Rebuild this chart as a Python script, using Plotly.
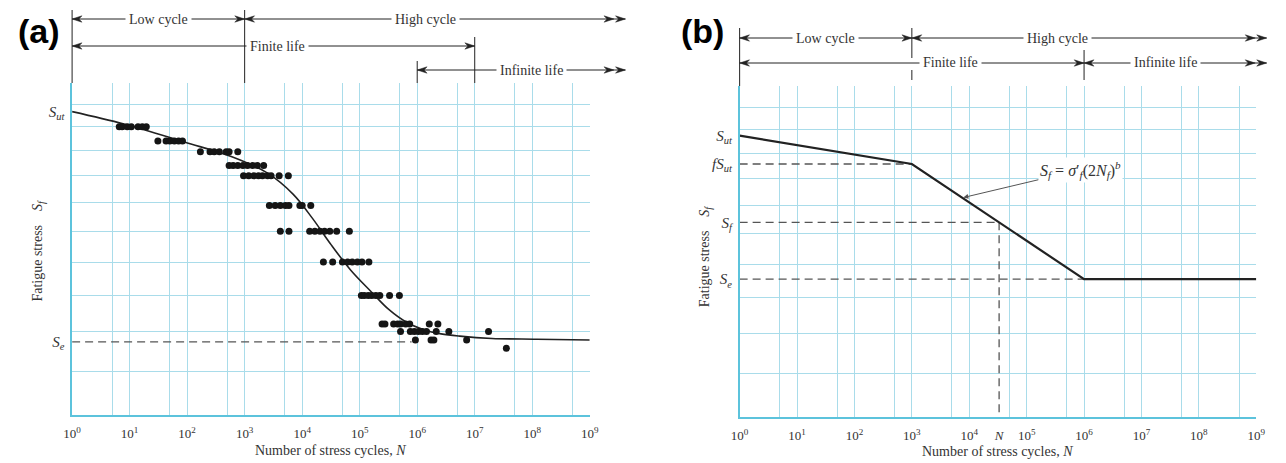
import math
import plotly.graph_objects as go

# ---------------- data ----------------
# Panel (a): experimental S-N points, grouped by stress level (arbitrary stress units)
row_stress = [18.0, 17.4, 16.95, 16.4, 16.0, 14.9, 14.0, 13.0, 12.0, 11.2, 11.0, 10.78, 10.57]
row_cycles = [
    [6.6, 7.4, 9.1, 10.7, 14, 16.6, 19.5],
    [31, 43, 50, 60, 71, 83],
    [170, 250, 295, 363, 479, 537, 759],
    [537, 631, 759, 933, 1122, 1380, 1660, 2140],
    [955, 1175, 1445, 1740, 2040, 2510, 2880, 3980, 5750],
    [2690, 3390, 4170, 5130, 5890, 9120, 10000, 14100],
    [4170, 5890, 13500, 16600, 20400, 24500, 30200, 39800, 66100],
    [23400, 33900, 50100, 61700, 74100, 91200, 109600, 144500],
    [1.07e5, 1.20e5, 1.41e5, 1.62e5, 1.91e5, 2.24e5, 3.31e5, 4.90e5],
    [2.45e5, 2.75e5, 3.89e5, 4.57e5, 5.13e5, 6.31e5, 7.41e5, 1.62e6, 2.29e6],
    [5.13e5, 7.59e5, 8.91e5, 1.05e6, 1.23e6, 1.45e6, 2.14e6, 3.55e6, 1.74e7],
    [9.3e5, 1.74e6, 1.95e6, 7.24e6],
    [3.55e7],
]
# Panel (a): fitted curve
curve_N = [1, 8, 90, 600, 2500, 7000, 15000, 32000, 70000, 1.6e5, 3.2e5,
           6.5e5, 1.3e6, 2.6e6, 5.5e6, 2e7, 1.2e8, 1e9]
curve_S = [18.67, 18.12, 17.35, 16.75, 16.1, 15.3, 14.45, 13.55, 12.75, 12.1, 11.6,
           11.25, 11.05, 10.94, 10.88, 10.82, 10.80, 10.78]
Sut_a = 18.67
Se_a = 10.73
Se_a_dash_end = 8e5

# Panel (b): idealized S-N diagram
Sut_b = 17.74
fSut_b = 16.57
Se_b = 12.55
N_knee = 1e3
N_e = 1e6
N_end = 1e9
N_b = 10 ** 4.52
logS = lambda v: math.log10(v)
Sf_b = 10 ** (logS(fSut_b) + (math.log10(N_b) - 3) / 3 * (logS(Se_b) - logS(fSut_b)))

# axes
decades = list(range(10))
decade_vals = [10 ** k for k in decades]
decade_text = [f"10<sup>{k}</sup>" for k in decades]
grid_x = sorted(decade_vals + [5 * 10 ** k for k in range(9)])
grid_y = list(range(9, 21))
y_min, y_max = 9, 20

ink = "#222222"
dash_col = "#555555"
grid_col = "#a9dcea"
axis_col = "#5cc3dc"
serif = "Liberation Serif"

fig = go.Figure()

# ---------------- panel (a) ----------------
pts_x, pts_y = [], []
for s, ns in zip(row_stress, row_cycles):
    pts_x += ns
    pts_y += [s] * len(ns)

fig.add_trace(go.Scatter(x=[1, Se_a_dash_end], y=[Se_a, Se_a], mode="lines",
                         line=dict(color=dash_col, width=1.3, dash="8px,5px"),
                         xaxis="x", yaxis="y", showlegend=False, hoverinfo="skip"))
fig.add_trace(go.Scatter(x=curve_N, y=curve_S, mode="lines",
                         line=dict(color=ink, width=1.6, shape="spline", smoothing=1.0),
                         xaxis="x", yaxis="y", showlegend=False))
fig.add_trace(go.Scatter(x=pts_x, y=pts_y, mode="markers",
                         marker=dict(color="#151515", size=7),
                         xaxis="x", yaxis="y", showlegend=False))

# ---------------- panel (b) ----------------
dash_b = dict(color=dash_col, width=1.3, dash="8px,5px")
fig.add_trace(go.Scatter(x=[1, N_knee], y=[fSut_b, fSut_b], mode="lines", line=dash_b,
                         xaxis="x2", yaxis="y2", showlegend=False))
fig.add_trace(go.Scatter(x=[1, N_b], y=[Sf_b, Sf_b], mode="lines", line=dash_b,
                         xaxis="x2", yaxis="y2", showlegend=False))
fig.add_trace(go.Scatter(x=[N_b, N_b], y=[Sf_b, y_min], mode="lines", line=dash_b,
                         xaxis="x2", yaxis="y2", showlegend=False))
fig.add_trace(go.Scatter(x=[1, N_e], y=[Se_b, Se_b], mode="lines", line=dash_b,
                         xaxis="x2", yaxis="y2", showlegend=False))
fig.add_trace(go.Scatter(x=[1, N_knee, N_e, N_end], y=[Sut_b, fSut_b, Se_b, Se_b], mode="lines",
                         line=dict(color=ink, width=2.2),
                         xaxis="x2", yaxis="y2", showlegend=False))

# ---------------- axes ----------------
def xaxis_cfg(domain, tickvals, ticktext):
    return dict(type="log", domain=domain, range=[0, 9], tickvals=tickvals, ticktext=ticktext,
                showgrid=False, zeroline=False, showline=True, linecolor=axis_col, linewidth=1.6,
                ticks="", ticklabelstandoff=6,
                tickfont=dict(family=serif, size=13, color="#333"),
                minor=dict(tickmode="array", tickvals=grid_x, showgrid=True,
                           gridcolor=grid_col, gridwidth=1, ticks=""))


def yaxis_cfg(domain, anchor, tickvals, ticktext):
    return dict(type="log", domain=domain, anchor=anchor,
                range=[math.log10(y_min), math.log10(y_max)],
                tickvals=tickvals, ticktext=ticktext, showgrid=False, zeroline=False,
                showline=True, linecolor=axis_col, linewidth=1.6, ticks="",
                ticklabelstandoff=3,
                tickfont=dict(family=serif, size=15, color="#333"),
                minor=dict(tickmode="array", tickvals=grid_y, showgrid=True,
                           gridcolor=grid_col, gridwidth=1, ticks=""))


W, H = 1286, 463
xa_dom = [64 / W, 589 / W]
xb_dom = [741 / W, 1265 / W]
ya_dom = [1 - 415 / H, 1 - 83 / H]
yb_dom = [1 - 417 / H, 1 - 86 / H]
xa_px = 589 - 64
xb_px = 1265 - 741
ya_px = 415 - 83
yb_px = 417 - 86

sut = "<i>S<sub>ut</sub></i>"
fig.update_layout(
    width=W, height=H, margin=dict(l=0, r=0, t=0, b=0),
    paper_bgcolor="white", plot_bgcolor="white", showlegend=False,
    xaxis=xaxis_cfg(xa_dom, decade_vals, decade_text) | dict(anchor="y"),
    yaxis=yaxis_cfg(ya_dom, "x", [Sut_a, Se_a], [sut, "<i>S<sub>e</sub></i>"]),
    xaxis2=xaxis_cfg(xb_dom, decade_vals + [N_b], decade_text + ["<i>N</i>"]) | dict(anchor="y2"),
    yaxis2=yaxis_cfg(yb_dom, "x2", [Sut_b, fSut_b, Sf_b, Se_b],
                     [sut, "<i>f</i>" + sut, "<i>S<sub>f</sub></i>", "<i>S<sub>e</sub></i>"]),
)

# ---------------- life-region brackets above plots ----------------
shapes, annotations = [], []
lab_font = dict(family=serif, size=14, color="#333")


def vline(xr, yr, lx, y0, y1):
    shapes.append(dict(type="line", xref=xr, yref=yr, x0=lx / 9, x1=lx / 9, y0=y0, y1=y1,
                       line=dict(color=ink, width=1)))


def head(xr, yr, wpx, hpx, lx, y, direction):
    # filled triangular arrowhead; tip at (lx, y), pointing in 'direction' (+1 right, -1 left)
    tip = lx / 9
    back = tip - direction * 10 / wpx
    hh = 3.2 / hpx
    shapes.append(dict(type="path", xref=xr, yref=yr,
                       path=f"M {tip} {y} L {back} {y + hh} L {back + direction * 3 / wpx} {y} L {back} {y - hh} Z",
                       fillcolor=ink, line=dict(color=ink, width=0.5)))


def bracket(xr, yr, wpx, hpx, l0, l1, y, label, lc, double_end=False):
    shapes.append(dict(type="line", xref=xr, yref=yr, x0=l0 / 9, x1=l1 / 9, y0=y, y1=y,
                       line=dict(color=ink, width=1)))
    head(xr, yr, wpx, hpx, l0, y, -1)
    head(xr, yr, wpx, hpx, l1, y, 1)
    if double_end:
        head(xr, yr, wpx, hpx, l1 - 0.2, y, 1)
    annotations.append(dict(xref=xr, yref=yr, x=lc / 9, y=y, xanchor="center", yanchor="middle",
                            text=label, showarrow=False,
                            font=lab_font, bgcolor="white", borderpad=3))


# panel (a) rows (in y-domain units above the plot)
ra_low, ra_fin, ra_inf = (415 - 19) / ya_px, (415 - 46) / ya_px, (415 - 70) / ya_px
A = ("x domain", "y domain", xa_px, ya_px)
bracket(*A, 0, 3, ra_low, "Low cycle", 1.51)
bracket(*A, 3, 9.62, ra_low, "High cycle", 6.14, True)
bracket(*A, 0, 7, ra_fin, "Finite life", 3.57)
bracket(*A, 6, 9.62, ra_inf, "Infinite life", 7.99, True)
vline("x domain", "y domain", 0, 1.0, (415 - 10) / ya_px)
vline("x domain", "y domain", 3, 1.0, (415 - 10) / ya_px)
vline("x domain", "y domain", 6, 1.0, ra_inf + 9 / ya_px)
vline("x domain", "y domain", 7, 1.0, ra_fin + 9 / ya_px)

# panel (b)
rb_low, rb_fin = (417 - 38) / yb_px, (417 - 63) / yb_px
B = ("x2 domain", "y2 domain", xb_px, yb_px)
bracket(*B, 0, 3, rb_low, "Low cycle", 1.49)
bracket(*B, 3, 9.18, rb_low, "High cycle", 5.53, True)
bracket(*B, 0, 6, rb_fin, "Finite life", 3.68)
bracket(*B, 6, 9.18, rb_fin, "Infinite life", 7.41, True)
vline("x2 domain", "y2 domain", 0, 1.0, (417 - 28) / yb_px)
vline("x2 domain", "y2 domain", 3, (417 - 58) / yb_px, (417 - 28) / yb_px)
vline("x2 domain", "y2 domain", 3, (417 - 80) / yb_px, (417 - 70) / yb_px)
vline("x2 domain", "y2 domain", 6, (417 - 80) / yb_px, (417 - 50) / yb_px)

# formula with arrow (panel b)
lN_arrow = 3.88
lS_arrow = logS(fSut_b) + (lN_arrow - 3) / 3 * (logS(Se_b) - logS(fSut_b))
annotations.append(dict(xref="x2", yref="y2", x=lN_arrow, y=lS_arrow,
                        text="<i>S<sub>f</sub></i> = <i>σ</i>′<sub><i>f</i></sub>(2<i>N<sub>f</sub></i>)<sup><i>b</i></sup>",
                        showarrow=True, arrowhead=2, arrowsize=1, arrowwidth=1, arrowcolor="#555",
                        ax=118, ay=-28, font=dict(family=serif, size=16, color="#333"),
                        bgcolor="white", borderpad=1, standoff=1))

# axis titles
ytitle = "Fatigue stress    <i>S<sub>f</sub></i>"
annotations.append(dict(xref="paper", yref="y domain", x=30 / W, y=0.494, text=ytitle,
                        xanchor="center", yanchor="middle",
                        textangle=-90, showarrow=False, font=dict(family=serif, size=14, color="#333")))
annotations.append(dict(xref="paper", yref="y2 domain", x=706 / W, y=0.486, text=ytitle,
                        xanchor="center", yanchor="middle",
                        textangle=-90, showarrow=False, font=dict(family=serif, size=14, color="#333")))
xtitle = "Number of stress cycles, <i>N</i>"
annotations.append(dict(xref="x domain", yref="paper", x=0.5, y=1 - 450 / H, text=xtitle,
                        xanchor="center", yanchor="middle",
                        showarrow=False, font=dict(family=serif, size=14, color="#333")))
annotations.append(dict(xref="x2 domain", yref="paper", x=0.5, y=1 - 451 / H, text=xtitle,
                        xanchor="center", yanchor="middle",
                        showarrow=False, font=dict(family=serif, size=14, color="#333")))

# panel letters
annotations.append(dict(xref="paper", yref="paper", x=7 / W, y=1 - 31 / H, xanchor="left",
                        yanchor="middle", text="<b>(a)</b>", showarrow=False,
                        font=dict(family="Liberation Sans", size=34, color="black")))
annotations.append(dict(xref="paper", yref="paper", x=680 / W, y=1 - 31 / H, xanchor="left",
                        yanchor="middle", text="<b>(b)</b>", showarrow=False,
                        font=dict(family="Liberation Sans", size=34, color="black")))

fig.update_layout(shapes=shapes, annotations=annotations)
fig.write_html("out.html")
